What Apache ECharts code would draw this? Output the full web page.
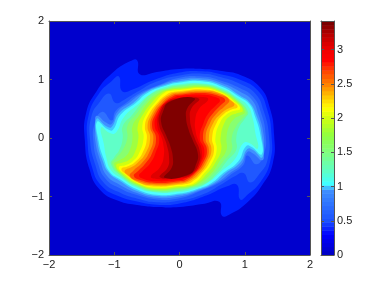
<!DOCTYPE html>
<html><head><meta charset="utf-8">
<style>html,body{margin:0;padding:0;background:#fff}#c{width:382px;height:287px}</style>
<script src="https://cdn.jsdelivr.net/npm/echarts@6/dist/echarts.min.js"></script>
</head><body><div id="c"></div>
<script>
const xTicks = [-2,-1,0,1,2];
const yTicks = [-2,-1,0,1,2];
const zMax = 3.42;
const baseColor = '#0000cd';
const levels = [0.1,0.3,0.5,0.7,0.85,1.0,1.1,1.25,1.4,1.6,1.8,2.0,2.15,2.3,2.45,2.6,2.75,2.9,3.05,3.2,3.3];
const bandColors = ['#0020ff','#1040ff','#2058ff','#3070ff','#4090ff','#40c8ff','#50ffff','#60ffc8','#70ff98','#88ff70','#a0ff40','#d0ff10','#ffff00','#ffcc00','#ff9800','#ff6000','#ff2000','#ff0000','#e00000','#b00000','#800000'];
const r010 = [[0,1.18],[.35,1.18],[.62,1.15],[.95,1.07],[1.23,.87],[1.38,.53],[1.45,.05],[1.43,-.43],[1.27,-.8],[1.03,-1.11],[.76,-1.31],[.65,-1.33],[.61,-1.09],[.35,-1.13],[0,-1.18],[-.35,-1.18],[-.62,-1.15],[-.95,-1.07],[-1.23,-.87],[-1.38,-.53],[-1.45,-.05],[-1.43,.43],[-1.27,.8],[-1.03,1.11],[-.76,1.31],[-.65,1.33],[-.61,1.09],[-.35,1.13]];
const r030 = [[0,1.12],[.35,1.14],[.63,1.09],[.94,.99],[1.2,.81],[1.34,.5],[1.41,.05],[1.39,-.4],[1.24,-.75],[1.05,-.96],[.93,-1.05],[.88,-.8],[.72,-.83],[.42,-.98],[0,-1.12],[-.35,-1.14],[-.63,-1.09],[-.94,-.99],[-1.2,-.81],[-1.34,-.5],[-1.41,-.05],[-1.39,.4],[-1.24,.75],[-1.05,.96],[-.93,1.05],[-.88,.8],[-.72,.83],[-.42,.98]];
const r050 = [[0,1.07],[.35,1.1],[.64,1.04],[.94,.92],[1.17,.75],[1.29,.46],[1.37,.05],[1.35,-.37],[1.22,-.62],[1.08,-.76],[.98,-.6],[.84,-.66],[.66,-.78],[.36,-.96],[0,-1.07],[-.35,-1.1],[-.64,-1.04],[-.94,-.92],[-1.17,-.75],[-1.29,-.46],[-1.37,-.05],[-1.35,.37],[-1.22,.62],[-1.08,.76],[-.98,.6],[-.84,.66],[-.66,.78],[-.36,.96]];
const r070 = [[0,1.03],[.35,1.05],[.64,.98],[.93,.85],[1.13,.7],[1.25,.43],[1.32,.05],[1.3,-.25],[1.18,-.45],[1.04,-.3],[.98,-.46],[.82,-.6],[.62,-.76],[.33,-.9],[0,-1.03],[-.35,-1.05],[-.64,-.98],[-.93,-.85],[-1.13,-.7],[-1.25,-.43],[-1.32,-.05],[-1.3,.25],[-1.18,.45],[-1.04,.3],[-.98,.46],[-.82,.6],[-.62,.76],[-.33,.9]];
const r085 = [[0,1.0],[.35,1.02],[.65,.94],[.93,.79],[1.11,.65],[1.21,.4],[1.29,.05],[1.29,-.2],[1.27,-.38],[1.12,-.26],[1.04,-.24],[.95,-.45],[.76,-.61],[.58,-.76],[.28,-.91],[0,-1.0],[-.35,-1.02],[-.65,-.94],[-.93,-.79],[-1.11,-.65],[-1.21,-.4],[-1.29,-.05],[-1.29,.2],[-1.27,.38],[-1.12,.26],[-1.04,.24],[-.95,.45],[-.76,.61],[-.58,.76],[-.28,.91]];
const r100 = [[0,.97],[.35,.99],[.66,.9],[.92,.73],[1.08,.6],[1.18,.38],[1.26,.05],[1.27,-.33],[1.12,-.2],[1.04,-.19],[.93,-.42],[.71,-.6],[.53,-.77],[.25,-.9],[0,-.97],[-.35,-.99],[-.66,-.9],[-.92,-.73],[-1.08,-.6],[-1.18,-.38],[-1.26,-.05],[-1.27,.33],[-1.12,.2],[-1.04,.19],[-.93,.42],[-.71,.6],[-.53,.77],[-.25,.9]];
const r110 = [[0,.95],[.35,.97],[.66,.87],[.92,.7],[1.07,.58],[1.16,.36],[1.24,.05],[1.26,-.28],[1.1,-.15],[1.02,-.14],[.9,-.4],[.67,-.6],[.49,-.77],[.25,-.88],[0,-.95],[-.35,-.97],[-.66,-.87],[-.92,-.7],[-1.07,-.58],[-1.16,-.36],[-1.24,-.05],[-1.26,.28],[-1.1,.15],[-1.02,.14],[-.9,.4],[-.67,.6],[-.49,.77],[-.25,.88]];
const r125 = [[0,.92],[.35,.93],[.65,.85],[.9,.68],[1.05,.55],[1.12,.34],[1.16,.1],[1.2,-.18],[1.06,-.08],[.97,-.1],[.85,-.36],[.63,-.58],[.45,-.75],[.22,-.87],[0,-.92],[-.35,-.93],[-.65,-.85],[-.9,-.68],[-1.05,-.55],[-1.12,-.34],[-1.16,-.1],[-1.2,.18],[-1.06,.08],[-.97,.1],[-.85,.36],[-.63,.58],[-.45,.75],[-.22,.87]];
const r140 = [[0,.9],[.35,.92],[.65,.83],[.89,.66],[1.05,.45],[1.0,.33],[.92,.2],[.87,0],[.87,-.2],[.72,-.4],[.58,-.6],[.41,-.77],[.18,-.86],[0,-.9],[-.35,-.92],[-.65,-.83],[-.89,-.66],[-1.05,-.45],[-1.0,-.33],[-.92,-.2],[-.87,0],[-.87,.2],[-.72,.4],[-.58,.6],[-.41,.77],[-.18,.86]];
const r160 = [[0,.88],[.35,.9],[.64,.82],[.88,.65],[1.03,.44],[.97,.34],[.87,.2],[.8,0],[.8,-.2],[.67,-.4],[.53,-.6],[.36,-.77],[.16,-.85],[0,-.88],[-.35,-.9],[-.64,-.82],[-.88,-.65],[-1.03,-.44],[-.97,-.34],[-.87,-.2],[-.8,0],[-.8,.2],[-.67,.4],[-.53,.6],[-.36,.77],[-.16,.85]];
const r180 = [[0,.86],[.35,.89],[.62,.81],[.87,.64],[1.0,.45],[.92,.38],[.84,.33],[.76,.2],[.72,0],[.72,-.2],[.61,-.4],[.49,-.6],[.31,-.77],[.14,-.84],[0,-.86],[-.35,-.89],[-.62,-.81],[-.87,-.64],[-1.0,-.45],[-.92,-.38],[-.84,-.33],[-.76,-.2],[-.72,0],[-.72,.2],[-.61,.4],[-.49,.6],[-.31,.77],[-.14,.84]];
const r200 = [[0,.84],[.35,.87],[.62,.8],[.86,.63],[.97,.47],[.87,.42],[.78,.38],[.69,.26],[.63,0],[.64,-.2],[.56,-.4],[.43,-.6],[.27,-.77],[.12,-.83],[0,-.84],[-.35,-.87],[-.62,-.8],[-.86,-.63],[-.97,-.47],[-.87,-.42],[-.78,-.38],[-.69,-.26],[-.63,0],[-.64,.2],[-.56,.4],[-.43,.6],[-.27,.77],[-.12,.83]];
const r215 = [[0,.82],[.35,.85],[.62,.78],[.84,.62],[.93,.5],[.82,.46],[.72,.4],[.62,.26],[.55,0],[.57,-.2],[.51,-.4],[.38,-.6],[.23,-.77],[.1,-.81],[0,-.82],[-.35,-.85],[-.62,-.78],[-.84,-.62],[-.93,-.5],[-.82,-.46],[-.72,-.4],[-.62,-.26],[-.55,0],[-.57,.2],[-.51,.4],[-.38,.6],[-.23,.77],[-.1,.81]];
const r230 = [[0,.8],[.35,.83],[.62,.77],[.82,.62],[.89,.53],[.78,.48],[.68,.41],[.57,.26],[.5,0],[.53,-.2],[.47,-.4],[.34,-.6],[.19,-.75],[.08,-.79],[0,-.8],[-.35,-.83],[-.62,-.77],[-.82,-.62],[-.89,-.53],[-.78,-.48],[-.68,-.41],[-.57,-.26],[-.5,0],[-.53,.2],[-.47,.4],[-.34,.6],[-.19,.75],[-.08,.79]];
const r245 = [[0,.78],[.35,.81],[.62,.76],[.8,.63],[.84,.56],[.74,.5],[.65,.43],[.52,.26],[.45,0],[.49,-.2],[.43,-.4],[.31,-.6],[.15,-.74],[0,-.78],[-.35,-.81],[-.62,-.76],[-.8,-.63],[-.84,-.56],[-.74,-.5],[-.65,-.43],[-.52,-.26],[-.45,0],[-.49,.2],[-.43,.4],[-.31,.6],[-.15,.74]];
const r260 = [[0,.76],[.35,.79],[.62,.74],[.76,.65],[.7,.55],[.58,.43],[.47,.26],[.4,0],[.45,-.2],[.4,-.4],[.27,-.6],[.12,-.73],[0,-.76],[-.35,-.79],[-.62,-.74],[-.76,-.65],[-.7,-.55],[-.58,-.43],[-.47,-.26],[-.4,0],[-.45,.2],[-.4,.4],[-.27,.6],[-.12,.73]];
const r275 = [[0,.74],[.35,.77],[.6,.72],[.7,.65],[.63,.56],[.52,.43],[.42,.26],[.36,0],[.42,-.2],[.37,-.4],[.24,-.6],[.09,-.72],[0,-.74],[-.35,-.77],[-.6,-.72],[-.7,-.65],[-.63,-.56],[-.52,-.43],[-.42,-.26],[-.36,0],[-.42,.2],[-.37,.4],[-.24,.6],[-.09,.72]];
const r290 = [[0,.72],[.35,.74],[.55,.7],[.62,.64],[.56,.56],[.45,.43],[.37,.26],[.31,0],[.38,-.2],[.34,-.4],[.2,-.6],[.05,-.71],[0,-.72],[-.35,-.74],[-.55,-.7],[-.62,-.64],[-.56,-.56],[-.45,-.43],[-.37,-.26],[-.31,0],[-.38,.2],[-.34,.4],[-.2,.6],[-.05,.71]];
const r305 = [[0,.69],[.35,.7],[.44,.66],[.3,.5],[.24,.3],[.25,.1],[.28,-.02],[.34,-.2],[.32,-.42],[.2,-.62],[0,-.69],[-.35,-.7],[-.44,-.66],[-.3,-.5],[-.24,-.3],[-.25,-.1],[-.28,.02],[-.34,.2],[-.32,.42],[-.2,.62]];
const r320 = [[0,.66],[.3,.67],[.18,.5],[.16,.34],[.19,.14],[.24,-.02],[.31,-.22],[.3,-.42],[.17,-.62],[0,-.66],[-.3,-.67],[-.18,-.5],[-.16,-.34],[-.19,-.14],[-.24,.02],[-.31,.22],[-.3,.42],[-.17,.62]];
const r330 = [[-.15,.62],[.23,.68],[.12,.51],[.1,.36],[.14,.14],[.2,-.03],[.28,-.26],[.26,-.43],[.15,-.62],[-.23,-.68],[-.12,-.51],[-.1,-.36],[-.14,-.14],[-.2,.03],[-.28,.26],[-.26,.43]];
const rings = [r010,r030,r050,r070,r085,r100,r110,r125,r140,r160,r180,r200,r215,r230,r245,r260,r275,r290,r305,r320,r330];
// colour bar legend: value, colour stops
const barStops = [[0,'#0000c0'],[0.3,'#0000ff'],[0.5,'#1a50ff'],[0.95,'#4090ff'],[1.0,'#40c8ff'],[1.05,'#40ffff'],[1.25,'#60ffc0'],[1.5,'#80ff80'],[1.75,'#90ff40'],[2.0,'#d0ff10'],[2.15,'#ffff00'],[2.3,'#ffcc00'],[2.5,'#ff8000'],[2.7,'#ff4000'],[2.85,'#ff0000'],[3.0,'#f00000'],[3.2,'#c00000'],[3.42,'#700000']];
const barStep = 0.06;

function hex(c){return [1,3,5].map(i=>parseInt(c.substr(i,2),16));}
function colorAt(v){
  for(let i=1;i<barStops.length;i++){
    if(v<=barStops[i][0]){
      const a=barStops[i-1],b=barStops[i],t=(v-a[0])/(b[0]-a[0]);
      const ca=hex(a[1]),cb=hex(b[1]);
      return 'rgb('+ca.map((x,k)=>Math.round(x+(cb[k]-x)*t)).join(',')+')';
    }
  }
  return barStops[barStops.length-1][1];
}
const barCells=[];
for(let v=0;v<zMax;v+=barStep){barCells.push([v,Math.min(v+barStep,zMax)]);}

const font='"Liberation Sans",Arial,sans-serif';
const lineC='#555';
const labelStyle={color:'#222',fontSize:11,fontFamily:font};
function minus(v){return String(v).replace('-','\u2212');}
function frameAxis(extra){
  return Object.assign({type:'value',z:10,splitLine:{show:false},
    axisLine:{show:true,onZero:false,lineStyle:{color:lineC,width:1}},
    axisTick:{show:true,inside:true,length:3,lineStyle:{color:lineC,width:1}}},extra);
}
const chart=echarts.init(document.getElementById('c'),null,{renderer:'canvas'});
chart.setOption({
  animation:false,
  backgroundColor:'#fff',
  grid:[
    {left:49,top:21,width:261,height:234,show:true,backgroundColor:baseColor,borderWidth:0},
    {left:321,top:21,width:13,height:234,show:false}
  ],
  xAxis:[
    frameAxis({gridIndex:0,position:'bottom',min:-2,max:2,interval:1,axisLabel:Object.assign({margin:4,formatter:minus},labelStyle)}),
    frameAxis({gridIndex:0,position:'top',min:-2,max:2,interval:1,axisLabel:{show:false}}),
    frameAxis({gridIndex:1,position:'bottom',min:0,max:1,axisTick:{show:false},axisLabel:{show:false}}),
    frameAxis({gridIndex:1,position:'top',min:0,max:1,axisTick:{show:false},axisLabel:{show:false}})
  ],
  yAxis:[
    frameAxis({gridIndex:0,position:'left',min:-2,max:2,interval:1,axisLabel:Object.assign({margin:5,formatter:minus},labelStyle)}),
    frameAxis({gridIndex:0,position:'right',min:-2,max:2,interval:1,axisLabel:{show:false}}),
    frameAxis({gridIndex:1,position:'right',min:0,max:zMax,interval:0.5,axisLabel:Object.assign({margin:3,showMaxLabel:false},labelStyle)}),
    frameAxis({gridIndex:1,position:'left',min:0,max:zMax,interval:0.5,axisLabel:{show:false}})
  ],
  series:[
    {type:'custom',coordinateSystem:'cartesian2d',xAxisIndex:0,yAxisIndex:0,
     data:levels.map((l,i)=>[i,l]),silent:true,
     renderItem:function(params,api){
       const i=api.value(0);
       return {type:'polygon',shape:{points:rings[i].map(p=>api.coord(p)),smooth:0.5},style:{fill:bandColors[i]}};
     }},
    {type:'custom',coordinateSystem:'cartesian2d',xAxisIndex:2,yAxisIndex:2,
     data:barCells,silent:true,
     renderItem:function(params,api){
       const lo=api.value(0),hi=api.value(1);
       const a=api.coord([0,hi]),b=api.coord([1,lo]);
       return {type:'rect',shape:{x:a[0],y:a[1],width:b[0]-a[0],height:b[1]-a[1]+0.5},style:{fill:colorAt((lo+hi)/2)}};
     }}
  ]
});
</script></body></html>
